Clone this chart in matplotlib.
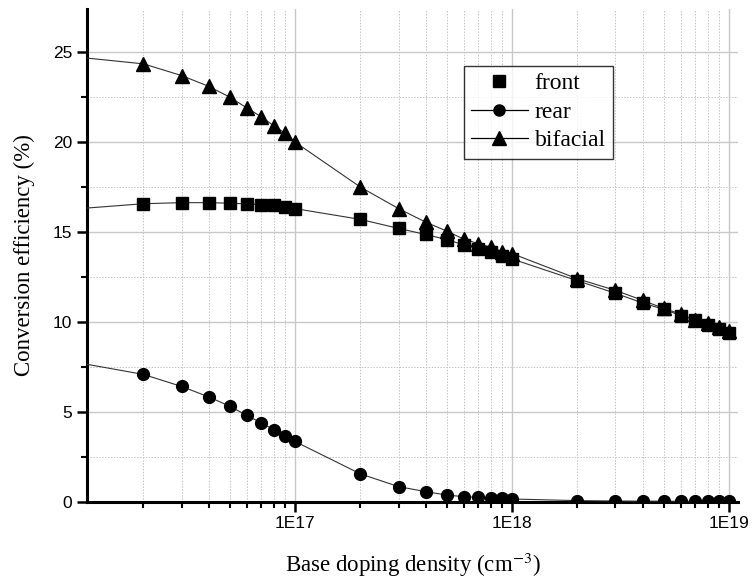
import matplotlib.pyplot as plt
import numpy as np
from matplotlib.ticker import FixedLocator, FuncFormatter, MultipleLocator, NullFormatter
from matplotlib.lines import Line2D

# doping density (cm^-3)
doping = [2e16, 3e16, 4e16, 5e16, 6e16, 7e16, 8e16, 9e16,
          1e17, 2e17, 3e17, 4e17, 5e17, 6e17, 7e17, 8e17, 9e17,
          1e18, 2e18, 3e18, 4e18, 5e18, 6e18, 7e18, 8e18, 9e18, 1e19]

front = [16.57, 16.63, 16.63, 16.60, 16.56, 16.52, 16.48, 16.37,
         16.30, 15.70, 15.20, 14.86, 14.58, 14.28, 14.06, 13.88, 13.69,
         13.50, 12.29, 11.59, 11.05, 10.70, 10.35, 10.10, 9.85, 9.60, 9.40]

rear = [7.08, 6.41, 5.83, 5.31, 4.80, 4.38, 4.00, 3.67,
        3.35, 1.55, 0.84, 0.56, 0.37, 0.28, 0.24, 0.20, 0.18,
        0.15, 0.06, 0.04, 0.03, 0.03, 0.02, 0.02, 0.02, 0.02, 0.02]

bifacial = [24.35, 23.70, 23.10, 22.50, 21.90, 21.40, 20.90, 20.50,
            20.00, 17.50, 16.30, 15.55, 15.05, 14.60, 14.35, 14.15, 13.90,
            13.80, 12.40, 11.75, 11.20, 10.75, 10.43, 10.10, 9.93, 9.69, 9.50]

# where the fitted curves start on the left edge of the plot
edge_x = 1.1e16
edge_front, edge_rear, edge_bifacial = 16.33, 7.64, 24.67

plt.rcParams["font.family"] = ["Liberation Sans", "DejaVu Sans"]
plt.rcParams["mathtext.fontset"] = "stix"

fig = plt.figure(figsize=(7.53, 5.80), dpi=100)
ax = fig.add_axes([0.1155, 0.135, 0.8645, 0.8495])

series = [
    (front, edge_front, "s", "front", False),
    (rear, edge_rear, "o", "rear", True),
    (bifacial, edge_bifacial, "^", "bifacial", True),
]

handles = []
for vals, edge, mk, name, line_in_legend in series:
    ax.plot([edge_x] + doping, [edge] + vals, color="#333333", lw=0.8, zorder=3)
    ax.plot(doping, vals, linestyle="none", marker=mk, color="black",
            markersize=8.5 if mk != "^" else 9.5, zorder=4)
    handles.append(Line2D([], [], color="black", lw=0.9 if line_in_legend else 0,
                          marker=mk, markersize=8 if mk != "^" else 9.5,
                          linestyle="-" if line_in_legend else "none", label=name))

ax.set_xscale("log")
ax.set_xlim(edge_x, 1.1e19)
ax.set_ylim(0, 27.4)

ax.xaxis.set_major_locator(FixedLocator([1e17, 1e18, 1e19]))
ax.xaxis.set_major_formatter(FuncFormatter(lambda v, p: "1E%d" % round(np.log10(v))))
ax.xaxis.set_minor_formatter(NullFormatter())
ax.yaxis.set_major_locator(MultipleLocator(5))
ax.yaxis.set_minor_locator(MultipleLocator(2.5))

ax.grid(which="major", color="#c8c8c8", lw=1.0, ls="-", zorder=0)
ax.grid(which="minor", color="#c4c4c4", lw=0.7, ls=(0, (1.5, 1.5)), zorder=0)
ax.set_axisbelow(True)

for s in ["top", "right"]:
    ax.spines[s].set_visible(False)
for s in ["left", "bottom"]:
    ax.spines[s].set_linewidth(2.2)

ax.tick_params(which="major", direction="out", length=7, width=1.8, labelsize=12.5)
ax.tick_params(which="minor", direction="out", length=4, width=1.5)

serif = ["Liberation Serif", "DejaVu Serif"]
ax.set_xlabel("Base doping density (cm$^{-3}$)", family=serif, fontsize=16.5, labelpad=14)
ax.set_ylabel("Conversion efficiency (%)", family=serif, fontsize=16.5, labelpad=13)

leg = ax.legend(handles=handles, loc="upper left", bbox_to_anchor=(0.579, 0.885),
                borderaxespad=0, prop={"family": serif, "size": 17}, frameon=True,
                fancybox=False, edgecolor="black", handlelength=2.4, handletextpad=0.3,
                labelspacing=0.3, borderpad=0.3)
leg.get_frame().set_linewidth(1.0)

fig.savefig("out.png", dpi=100)
